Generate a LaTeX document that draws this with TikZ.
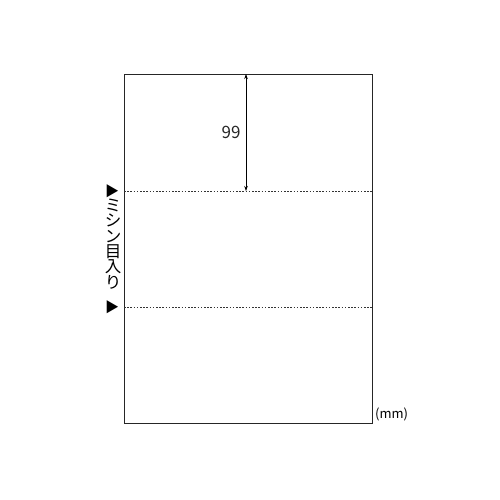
\documentclass[tikz,border=0pt]{standalone}
\usepackage{fontspec}
\setmainfont{Noto Sans CJK JP}
\usetikzlibrary{arrows.meta}
\begin{document}
\begin{tikzpicture}[x=1pt,y=-1pt,inner sep=0pt,
  perf/.style={line width=0.7pt,dash pattern=on 1.6pt off 1.6pt,black!80},
  dimline/.style={line width=0.6pt,{Stealth[length=5pt,width=3.5pt]}-{Stealth[length=5pt,width=3.5pt]}},
  vchar/.style={font=\fontsize{16.5}{17}\selectfont}]
\useasboundingbox (0,0) rectangle (500,500);
\node[draw,line width=1.1pt,black!85,minimum width=248pt,minimum height=349pt,anchor=north west] (sheet) at (124,74) {};
% perforations
\coordinate (cutAl) at (124,191); \coordinate (cutAr) at (372,191);
\coordinate (cutBl) at (124,307); \coordinate (cutBr) at (372,307);
\draw[perf] (cutAl) -- (cutAr);
\draw[perf] (cutBl) -- (cutBr);
% dimension
\coordinate (dimtop) at (246,74); \coordinate (dimbot) at (246,191);
\draw[dimline] (dimtop) -- (dimbot);
\node[font=\fontsize{17}{17}\selectfont,black!85] (dimlabel) at (231,132) {99};
% vertical caption
\node[font=\fontsize{14}{14}\selectfont] (triA) at (112,191) {▶};
\node[font=\fontsize{14}{14}\selectfont] (triB) at (112,307) {▶};
\foreach \c [count=\i] in {ミ,シ,ン,目,入,り}
  \node[vchar] (v\i) at (113,190+15.4*\i) {\c};
\node[anchor=south west,font=\fontsize{13}{13}\selectfont] (unit) at (375,421) {(mm)};
\end{tikzpicture}
\end{document}
